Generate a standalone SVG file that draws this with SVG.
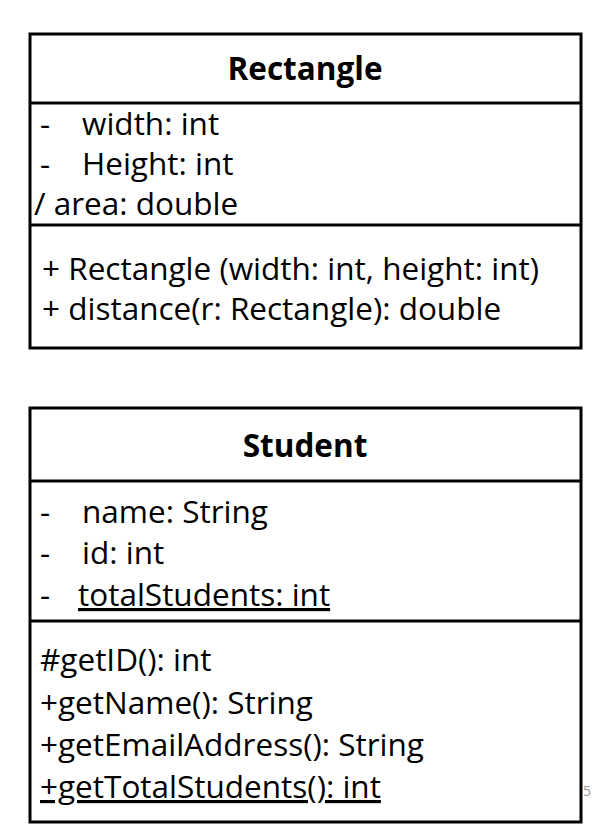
<svg xmlns="http://www.w3.org/2000/svg" width="606" height="827" viewBox="0 0 606 827">
<style>
.box{fill:#fff;stroke:#000;stroke-width:3}
.ln{stroke:#000;stroke-width:3}
text{font-family:"Open Sans","Liberation Sans",Arial,sans-serif;font-size:31.5px;fill:#000}
.t{font-weight:bold;text-anchor:middle}
.u{text-decoration:underline}
</style>
<rect width="606" height="827" fill="#fff"/>
<g id="rectangle">
<rect class="box" x="30" y="34" width="551" height="314"/>
<line class="ln" x1="30" y1="103" x2="581" y2="103"/>
<line class="ln" x1="30" y1="225" x2="581" y2="225"/>
<text class="t" x="305" y="80">Rectangle</text>
<text x="40" y="135">-</text><text x="82" y="135">width: int</text>
<text x="40" y="175">-</text><text x="82" y="175">Height: int</text>
<text x="34" y="215">/ area: double</text>
<text x="42" y="280">+ Rectangle (width: int, height: int)</text>
<text x="42" y="320">+ distance(r: Rectangle): double</text>
</g>
<g id="student">
<rect class="box" x="30" y="408" width="551" height="414"/>
<line class="ln" x1="30" y1="481" x2="581" y2="481"/>
<line class="ln" x1="30" y1="621" x2="581" y2="621"/>
<text class="t" x="305" y="457">Student</text>
<text x="40" y="523">-</text><text x="82" y="523">name: String</text>
<text x="40" y="564">-</text><text x="82" y="564">id: int</text>
<text x="40" y="606">-</text><text class="u" x="78" y="606">totalStudents: int</text>
<text x="40" y="671">#getID(): int</text>
<text x="40" y="714">+getName(): String</text>
<text x="40" y="756">+getEmailAddress(): String</text>
<text class="u" x="40" y="798">+getTotalStudents(): int</text>
</g>
<text x="583" y="796" style="font-size:14px;fill:#999">5</text>
<g id="connectors"/>
</svg>
